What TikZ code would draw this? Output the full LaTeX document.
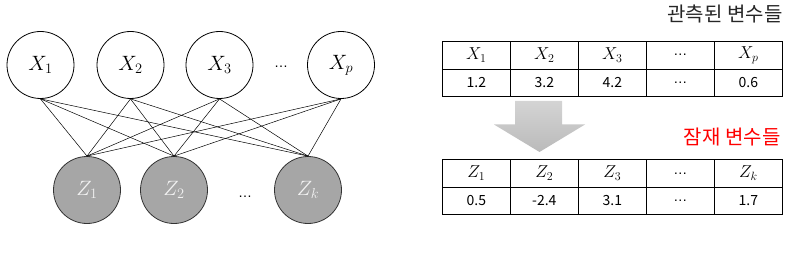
\documentclass[tikz,border=0pt]{standalone}
\usepackage{fontspec}
\newfontfamily\kr{Noto Sans CJK KR}
\newfontfamily\lat{Liberation Sans}
\usetikzlibrary{positioning}

\begin{document}
\begin{tikzpicture}[x=1pt, y=-1pt, node distance=0pt,
  obs/.style={draw, circle, line width=0.8pt, minimum size=67pt, inner sep=0pt, font=\fontsize{21}{24}\selectfont},
  lat/.style={draw=black!80, circle, line width=0.8pt, minimum size=67pt, inner sep=0pt, fill=black!35, text=black!5, font=\fontsize{21}{24}\selectfont},
  cell/.style={draw, line width=0.8pt, outer sep=0pt, inner sep=0pt, minimum width=68pt, minimum height=28pt, font=\fontsize{17}{19}\selectfont},
  val/.style={cell, minimum height=27.5pt, font=\kr\fontsize{14}{16}\selectfont},
  dots/.style={font=\lat\fontsize{14}{16}\selectfont}]
  \useasboundingbox (0,0) rectangle (800,259);
  % network
  \node[obs] (x1) at (40.5,65) {$X_1$};
  \node[obs] (x2) at (130.5,65) {$X_2$};
  \node[obs] (x3) at (219.5,65) {$X_3$};
  \node[obs] (xp) at (341,65) {$X_p$};
  \node[dots] (xd) at (281,67) {…};
  \node[lat] (z1) at (87,190) {$Z_1$};
  \node[lat] (z2) at (174,190) {$Z_2$};
  \node[lat] (zk) at (308,190) {$Z_k$};
  \node[dots] (zd) at (245,197) {…};
  \foreach \a in {x1,x2,x3,xp}
    \foreach \b in {z1,z2,zk}
      \draw[line width=0.5pt] (\a.south) -- (\b.north);
  % tables
  \node[font=\kr\fontsize{20}{24}\selectfont, text=black!85, anchor=east] (obstitle) at (786,14) {관측된 변수들};
  \node[cell] (xh1) at (476.3,55) {$X_1$};
  \node[cell, right=of xh1] (xh2) {$X_2$};
  \node[cell, right=of xh2] (xh3) {$X_3$};
  \node[cell, right=of xh3, dots] (xh4) {\raisebox{-2pt}{…}};
  \node[cell, right=of xh4] (xh5) {$X_p$};
  \node[val, below=of xh1] (xv1) {1.2};
  \node[val, below=of xh2] (xv2) {3.2};
  \node[val, below=of xh3] (xv3) {4.2};
  \node[val, below=of xh4, dots] (xv4) {\raisebox{-2pt}{…}};
  \node[val, below=of xh5] (xv5) {0.6};
  \shade[top color=black!17, bottom color=black!27]
    (515,101) -- (562,101) -- (562,124.5) -- (585,124.5) -- (539.5,152) -- (494,124.5) -- (515,124.5) -- cycle;
  \node[font=\kr\fontsize{20}{24}\selectfont, text=red, anchor=east] (lattitle) at (784,137) {잠재 변수들};
  \node[cell] (zh1) at (476.3,173) {$Z_1$};
  \node[cell, right=of zh1] (zh2) {$Z_2$};
  \node[cell, right=of zh2] (zh3) {$Z_3$};
  \node[cell, right=of zh3, dots] (zh4) {\raisebox{-2pt}{…}};
  \node[cell, right=of zh4] (zh5) {$Z_k$};
  \node[val, below=of zh1] (zv1) {0.5};
  \node[val, below=of zh2] (zv2) {-2.4};
  \node[val, below=of zh3] (zv3) {3.1};
  \node[val, below=of zh4, dots] (zv4) {\raisebox{-2pt}{…}};
  \node[val, below=of zh5] (zv5) {1.7};
\end{tikzpicture}
\end{document}
